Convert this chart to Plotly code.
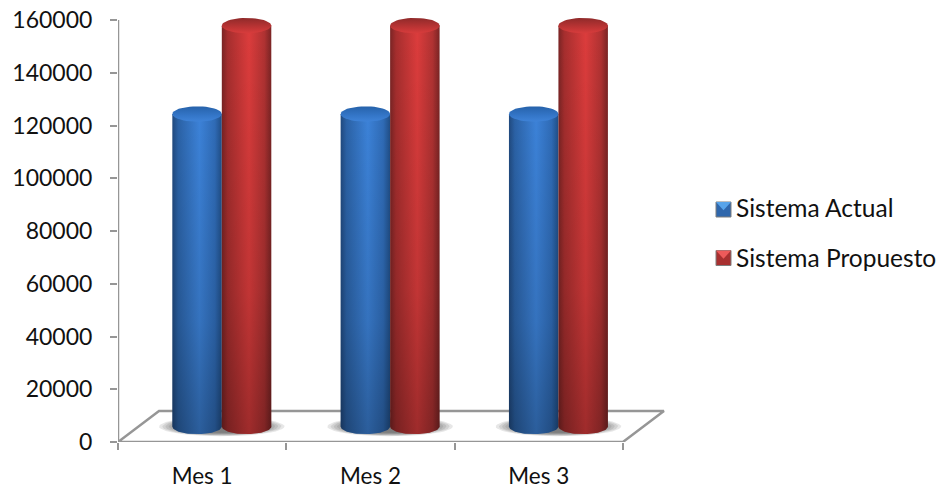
import numpy as np
import plotly.graph_objects as go

# Chart data
categories = ["Mes 1", "Mes 2", "Mes 3"]
sistema_actual = [118500, 118500, 118500]
sistema_propuesto = [152000, 152000, 152000]
y_ticks = [0, 20000, 40000, 60000, 80000, 100000, 120000, 140000, 160000]

# Drawing geometry, in axis units
X_MAX = 3.25
Y_MAX = 163800
DEPTH_X = 0.2436
DEPTH_Y = 11755
BAR_HALF = 0.147
CAP_B = 2900
GROUP_NUDGE = -0.005

BLUE_BODY = [[0, "#20497e"], [0.12, "#2b62a6"], [0.55, "#3c82d8"], [0.86, "#2f6bb6"], [1, "#204e86"]]
RED_BODY = [[0, "#7a2424"], [0.12, "#a62e2e"], [0.55, "#dc3c3c"], [0.86, "#b03232"], [1, "#7a2424"]]
BLUE_CAP = [[0, "#3f83d8"], [0.4, "#3476c8"], [1, "#2662aa"]]
RED_CAP = [[0, "#d83c3c"], [0.4, "#bc3434"], [1, "#902a2a"]]
AXIS_GREY = "#969696"
FONT = "Lato"
TEXT = "#111111"

fig = go.Figure()


def add_poly(xs, ys, **kw):
    fig.add_trace(go.Scatter(x=xs, y=ys, mode="lines", fill="toself",
                             line=dict(width=0), hoverinfo="skip",
                             showlegend=False, **kw))


def ellipse(cx, cy, a, b, t0=0.0, t1=2 * np.pi, n=48):
    t = np.linspace(t0, t1, n)
    return cx + a * np.cos(t), cy + b * np.sin(t)


def add_cylinder(cx, value, body_scale, cap_scale):
    base = DEPTH_Y / 2
    top = base + value
    # Body: straight sides closed by the front half of the base ellipse
    bx, by = ellipse(cx, base, BAR_HALF, CAP_B, np.pi, 2 * np.pi)
    xs = np.concatenate([bx, [cx + BAR_HALF, cx - BAR_HALF, cx - BAR_HALF]])
    ys = np.concatenate([by, [top, top, base]])
    add_poly(xs, ys, fillgradient=dict(type="horizontal", colorscale=body_scale))
    # Shading that deepens towards the floor
    add_poly(xs, ys, fillgradient=dict(type="vertical", colorscale=[
        [0, "rgba(0,0,0,0.28)"], [0.35, "rgba(0,0,0,0.12)"], [1, "rgba(0,0,0,0)"]]))
    # Top cap
    cx_, cy_ = ellipse(cx, top, BAR_HALF, CAP_B)
    add_poly(cx_, cy_, fillgradient=dict(type="vertical", colorscale=cap_scale))


# Floor
floor_x = [0, 3, 3 + DEPTH_X, DEPTH_X, 0]
floor_y = [0, 0, DEPTH_Y, DEPTH_Y, 0]
fig.add_trace(go.Scatter(x=floor_x, y=floor_y, mode="lines",
                         line=dict(color=AXIS_GREY, width=2.5),
                         hoverinfo="skip", showlegend=False))
# Vertical axis line
fig.add_trace(go.Scatter(x=[0, 0], y=[0, y_ticks[-1]], mode="lines",
                         line=dict(color=AXIS_GREY, width=2.5),
                         hoverinfo="skip", showlegend=False))

for i in range(len(categories)):
    mid = i + 0.5 + DEPTH_X / 2 + GROUP_NUDGE
    # Soft shadow under each pair of cylinders
    for k in range(8):
        f = 1 - k * 0.05
        sx, sy = ellipse(mid, DEPTH_Y / 2, 0.372 * f, 3700 * f)
        add_poly(sx, sy, fillcolor="rgba(60,60,60,0.12)")
    add_cylinder(mid - BAR_HALF, sistema_actual[i], BLUE_BODY, BLUE_CAP)
    add_cylinder(mid + BAR_HALF, sistema_propuesto[i], RED_BODY, RED_CAP)

# Legend entries; the bevelled keys are drawn as shapes beside the text
for name in ["Sistema Actual", "Sistema Propuesto"]:
    fig.add_trace(go.Scatter(x=[None], y=[None], mode="markers", name=name,
                             legendgroup=name,
                             marker=dict(symbol="square", size=1, color="rgba(0,0,0,0)")))


def px_x(p):
    return (p - 118) / 547


def px_y(p):
    return (442 - p) / 432


def bevel_key(left, top, size, light, body):
    x0, x1, xc = px_x(left), px_x(left + size), px_x(left + size / 2)
    y0, y1 = px_y(top), px_y(top + size)
    yc = px_y(top + size * 0.55)
    shapes = [
        dict(type="rect", xref="paper", yref="paper", x0=x0, x1=x1, y0=y0, y1=y1,
             fillcolor=body, line=dict(color="#7f7f7f", width=1), layer="above"),
        dict(type="path", xref="paper", yref="paper",
             path=f"M{x0},{y0} L{x1},{y0} L{xc},{yc} Z", fillcolor=light,
             line=dict(width=0), layer="above"),
    ]
    return shapes


legend_keys = bevel_key(716, 202, 15, "#58a4ea", "#2f67ac") + \
    bevel_key(716, 250.5, 15, "#ee5a5a", "#a83030")

fig.update_layout(
    width=942, height=489,
    autosize=False,
    margin=dict(l=118, r=277, t=10, b=47, autoexpand=False),
    paper_bgcolor="white",
    plot_bgcolor="white",
    font=dict(family=FONT, size=23, color=TEXT),
    showlegend=True,
    shapes=legend_keys,
    legend=dict(x=(696 - 118) / 547, y=(442 - 185) / 432, xanchor="left", yanchor="top",
                font=dict(family=FONT, size=24.5, color=TEXT),
                tracegroupgap=15, bgcolor="rgba(0,0,0,0)", itemclick=False, itemdoubleclick=False),
    xaxis=dict(range=[0, X_MAX], showgrid=False, zeroline=False, showline=False,
               tickmode="array", tickvals=[i + 0.5 for i in range(len(categories))],
               ticktext=categories, ticks="", ticklabelstandoff=18,
               tickfont=dict(family=FONT, size=22.5, color=TEXT),
               minor=dict(tickmode="array", tickvals=list(range(len(categories) + 1)),
                          ticks="outside", ticklen=7, tickwidth=2, tickcolor=AXIS_GREY,
                          showgrid=False)),
    yaxis=dict(range=[0, Y_MAX], showgrid=False, zeroline=False, showline=False,
               tickmode="array", tickvals=y_ticks, ticktext=[str(v) for v in y_ticks],
               ticks="outside", ticklen=7, tickwidth=2, tickcolor=AXIS_GREY,
               ticklabelstandoff=13,
               tickfont=dict(family=FONT, size=23, color=TEXT)),
)

fig.write_html("out.html", config=dict(displayModeBar=False))
